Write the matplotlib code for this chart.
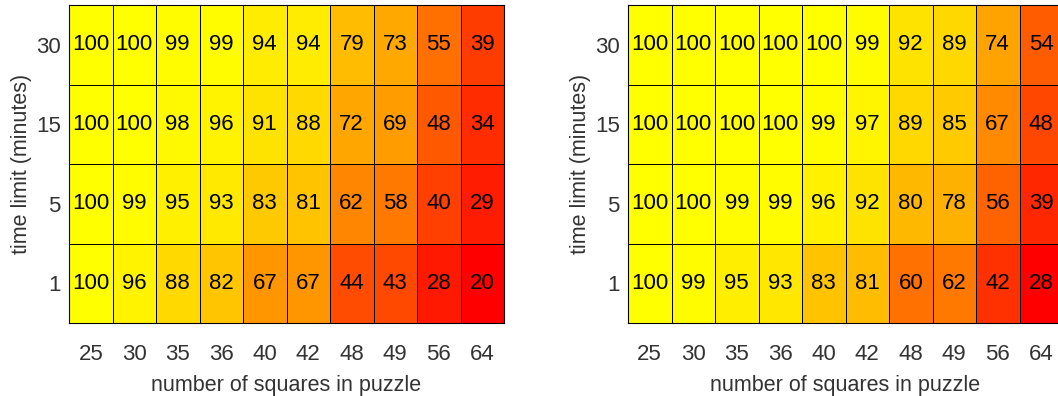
import matplotlib
matplotlib.use("Agg")
import matplotlib.pyplot as plt
import numpy as np

plt.rcParams["font.family"] = ["Liberation Sans", "DejaVu Sans"]

squares = [25, 30, 35, 36, 40, 42, 48, 49, 56, 64]
time_limits = [30, 15, 5, 1]

# solve rates (%), rows ordered top to bottom as time_limits
solved_left = [
    [100, 100, 99, 99, 94, 94, 79, 73, 55, 39],
    [100, 100, 98, 96, 91, 88, 72, 69, 48, 34],
    [100, 99, 95, 93, 83, 81, 62, 58, 40, 29],
    [100, 96, 88, 82, 67, 67, 44, 43, 28, 20],
]
solved_right = [
    [100, 100, 100, 100, 100, 99, 92, 89, 74, 54],
    [100, 100, 100, 100, 99, 97, 89, 85, 67, 48],
    [100, 100, 99, 99, 96, 92, 80, 78, 56, 39],
    [100, 99, 95, 93, 83, 81, 60, 62, 42, 28],
]

W, H = 1058, 396
fig = plt.figure(figsize=(W / 100, H / 100), dpi=100)

tick_col = "#333333"
fs = 16


def draw(ax, vals):
    arr = np.array(vals, dtype=float)
    ax.pcolormesh(arr, cmap="autumn", vmin=arr.min(), vmax=arr.max(),
                  edgecolors="black", linewidth=0.6)
    ax.set_xlim(0, arr.shape[1])
    ax.set_ylim(arr.shape[0], 0)
    for i in range(arr.shape[0]):
        for j in range(arr.shape[1]):
            ax.text(j + 0.5, i + 0.5, f"{int(arr[i, j])}", ha="center",
                    va="center", fontsize=fs, color="black")
    ax.set_xticks(np.arange(len(squares)) + 0.5)
    ax.set_xticklabels(squares)
    ax.set_yticks(np.arange(len(time_limits)) + 0.5)
    ax.set_yticklabels(time_limits)
    ax.tick_params(length=0, labelsize=fs, colors=tick_col, pad=6)
    ax.tick_params(axis="x", pad=15)
    ax.set_xlabel("number of squares in puzzle", fontsize=15.5, color=tick_col,
                  labelpad=7)
    ax.set_ylabel("time limit (minutes)", fontsize=15.5, color=tick_col,
                  labelpad=3)
    for s in ax.spines.values():
        s.set_color("black")
        s.set_linewidth(0.8)


bottom = (H - 323) / H
height = 318 / H
ax1 = fig.add_axes([69 / W, bottom, 435 / W, height])
ax2 = fig.add_axes([628 / W, bottom, 435 / W, height])
draw(ax1, solved_left)
draw(ax2, solved_right)

fig.savefig("out.png", dpi=100)
